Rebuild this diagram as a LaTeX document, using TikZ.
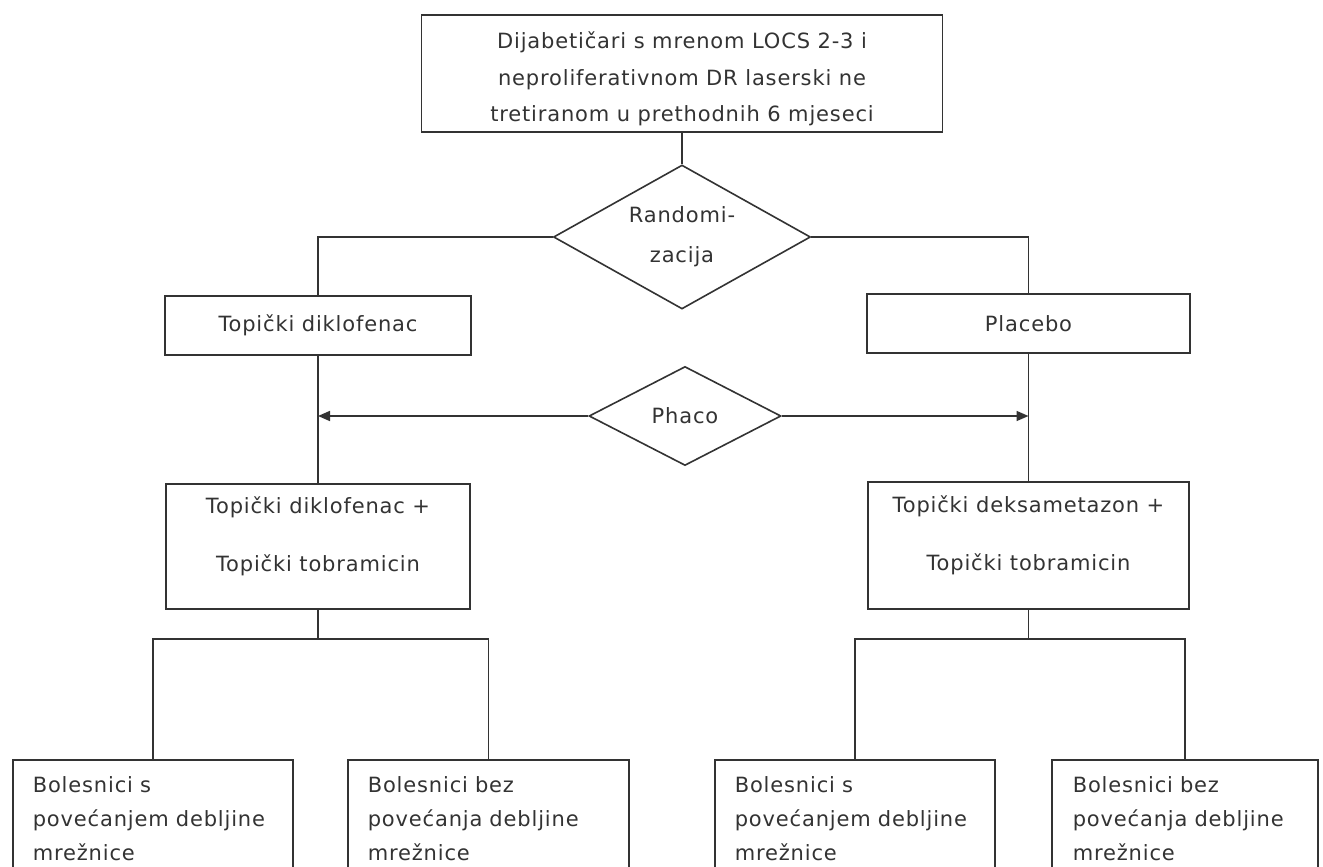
\documentclass[tikz,border=0pt]{standalone}
\usepackage{fontspec}
\setmainfont{DejaVu Sans}[LetterSpace=4]
\usetikzlibrary{shapes.geometric,arrows.meta}

\begin{document}
\begin{tikzpicture}[x=1pt,y=-1pt,
   font=\fontsize{21}{34}\selectfont,
   box/.style={draw=black!80,line width=1.6pt,text=black!80,rectangle,inner sep=0pt,align=center},
   decision/.style={draw=black!80,line width=1.6pt,text=black!80,diamond,inner sep=0pt,align=center},
   leaf/.style={draw=black!80,line width=1.6pt,text=black!80,rectangle,anchor=north west,
      align=left,inner xsep=20pt,inner ysep=17pt,text depth=90pt},
   link/.style={draw=black!80,line width=1.6pt}]
\useasboundingbox (0,0) rectangle (1323,867);
\fill[white] (0,0) rectangle (1323,867);
\clip (0,0) rectangle (1323,867);

\node[box,minimum width=521pt,minimum height=117pt,font=\fontsize{21}{36.5}\selectfont,text height=101pt] (patients) at (682,73.5)
   {Dijabetičari s mrenom LOCS 2-3 i\\neproliferativnom DR laserski ne\\tretiranom u prethodnih 6 mjeseci};
\node[decision,aspect=1.78,minimum width=257pt,minimum height=144pt,font=\fontsize{21}{40}\selectfont] (random) at (682,237)
   {Randomi-\\zacija};
\node[box,minimum width=306pt,minimum height=59pt] (diklo) at (318,325.5) {Topički diklofenac};
\node[box,minimum width=323pt,minimum height=59pt] (placebo) at (1028.5,323.5) {Placebo};
\node[decision,aspect=1.9,minimum width=192pt,minimum height=99pt] (phaco) at (685,416) {Phaco};
\node[box,minimum width=304pt,minimum height=125pt,font=\fontsize{21}{58}\selectfont,text depth=25pt] (diklotob) at (318,546.5)
   {Topički diklofenac +\\Topički tobramicin};
\node[box,minimum width=321pt,minimum height=127pt,font=\fontsize{21}{58}\selectfont,text depth=25pt] (deksatob) at (1028.5,545.5)
   {Topički deksametazon +\\Topički tobramicin};

\node[leaf,text width=240pt] (leftwith) at (12,759) {Bolesnici s\\povećanjem debljine\\mrežnice};
\node[leaf,text width=241pt] (leftwithout) at (347,759) {Bolesnici bez\\povećanja debljine\\mrežnice};
\node[leaf,text width=240pt] (rightwith) at (714,759) {Bolesnici s\\povećanjem debljine\\mrežnice};
\node[leaf,text width=224pt,inner xsep=21pt] (rightwithout) at (1051,759) {Bolesnici bez\\povećanja debljine\\mrežnice};

\coordinate (lsplit) at ([yshift=-29pt]diklotob.south);
\coordinate (rsplit) at ([yshift=-29pt]deksatob.south);

\draw[link] (random.north |- patients.south) -- (random.north);
\draw[link] (random.west) -| (diklo.north);
\draw[link] (random.east) -| (placebo.north);
\draw[link] (diklo.south) -- (diklotob.north);
\draw[link] (placebo.south) -- (deksatob.north);
\draw[link,-{Triangle[length=12pt,width=10pt]}] (phaco.west) -- (phaco.west -| diklo.south);
\draw[link,-{Triangle[length=12pt,width=10pt]}] (phaco.east) -- (phaco.east -| placebo.south);
\draw[link] (diklotob.south) -- (lsplit);
\draw[link] (leftwith.north) |- (lsplit) -| (leftwithout.north);
\draw[link] (deksatob.south) -- (rsplit);
\draw[link] (rightwith.north) |- (rsplit) -| (rightwithout.north);
\end{tikzpicture}
\end{document}
